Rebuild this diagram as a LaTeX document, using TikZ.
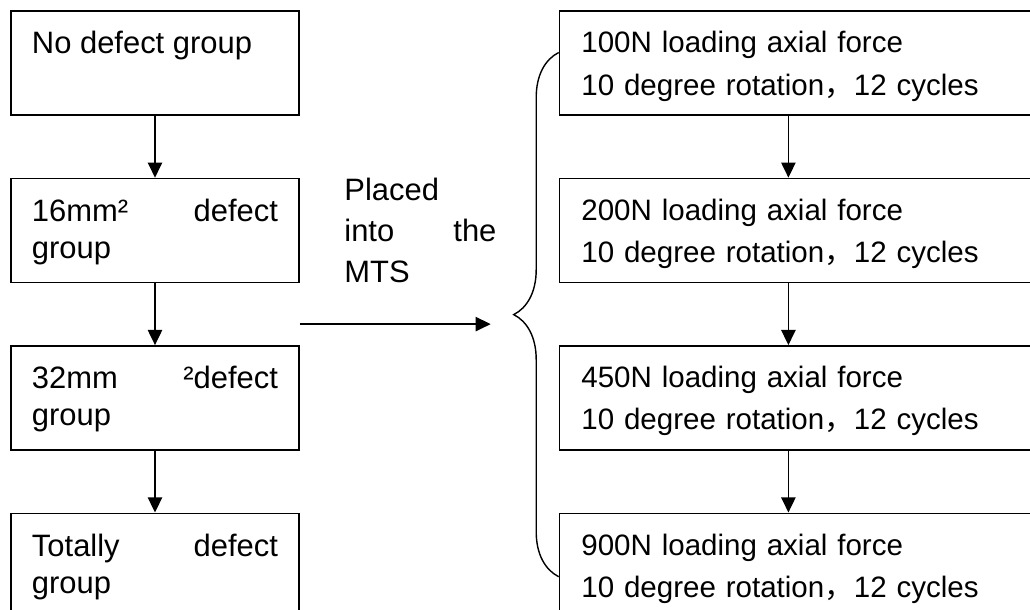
\documentclass[tikz,border=0pt]{standalone}
\usepackage{fontspec}
\setmainfont{Liberation Sans}
\newfontfamily\cjk{Noto Sans CJK SC}
\usetikzlibrary{arrows.meta, positioning, decorations.pathreplacing}
\hyphenpenalty=10000
\exhyphenpenalty=10000

\begin{document}
\begin{tikzpicture}[
  line width = 1pt,
  node distance = 1.55cm,
  box/.style = {draw, align=justify, text width=6.15cm, inner xsep=0.525cm, inner ysep=0pt, text height=1.075cm, text depth=1.525cm, font=\fontsize{22}{26.3}\selectfont},
  loadbox/.style = {draw, align=left, text width=10.9cm, inner xsep=0.55cm, inner ysep=0pt, text height=1.05cm, text depth=1.55cm, font=\fontsize{21}{29.9}\selectfont},
  arrow/.style = {-{Triangle[length=0.38cm,width=0.36cm]}}
]
\path[use as bounding box, clip] (0,0) rectangle (25.75,-15.25);

\node[box] (G0) at (3.875,-1.575) {No defect group};
\node[box, below=of G0] (G16) {16mm² defect group};
\node[box, below=of G16] (G32) {32mm ²defect group};
\node[box, below=of G32] (GT) {Totally defect group};

\node[loadbox, right=6.475cm of G0] (F100) {100N loading axial force\\10 degree rotation{\cjk ，}12 cycles};
\node[loadbox, below=of F100] (F200) {200N loading axial force\\10 degree rotation{\cjk ，}12 cycles};
\node[loadbox, below=of F200] (F450) {450N loading axial force\\10 degree rotation{\cjk ，}12 cycles};
\node[loadbox, below=of F450] (F900) {900N loading axial force\\10 degree rotation{\cjk ，}12 cycles};

\draw[arrow] (G0) -- (G16);
\draw[arrow] (G16) -- (G32);
\draw[arrow] (G32) -- (GT);

\draw[arrow] ([xshift=-0.275cm]F100.south) -- ([xshift=-0.275cm]F200.north);
\draw[arrow] ([xshift=-0.275cm]F200.south) -- ([xshift=-0.275cm]F450.north);
\draw[arrow] ([xshift=-0.275cm]F450.south) -- ([xshift=-0.275cm]F900.north);

% samples go into the testing machine
\coordinate (from) at ([yshift=-1.025cm]G16.south east);
\coordinate (to) at ([xshift=4.775cm]from);
\draw[arrow] (from) -- (to);
\node[anchor=north west, inner sep=0pt, text width=3.8cm, align=justify, text height=0.53cm, font=\fontsize{22}{29.5}\selectfont] (MTS) at ([xshift=1.1cm, yshift=3.65cm]from) {Placed\\into the MTS};

\coordinate (brace top) at ([yshift=0.2625cm]F100.west);
\coordinate (brace bottom) at ([yshift=-0.2875cm]F900.west);
\draw[decorate, decoration={brace, amplitude=1.125cm}] (brace bottom) -- (brace top);
\end{tikzpicture}
\end{document}
